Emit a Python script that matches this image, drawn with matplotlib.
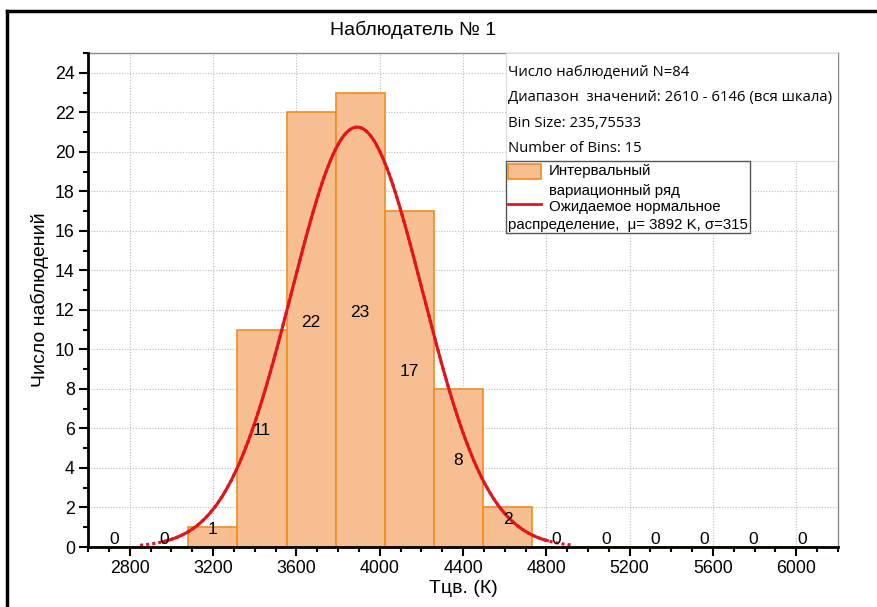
import numpy as np
import matplotlib
matplotlib.use("Agg")
import matplotlib.pyplot as plt
from matplotlib.lines import Line2D
from matplotlib.patches import Rectangle
from matplotlib.ticker import MultipleLocator

plt.rcParams['font.family'] = ['Liberation Sans', 'DejaVu Sans']

# данные гистограммы
bin_start = 2610
bin_size = 235.75533
counts = [0, 0, 1, 11, 22, 23, 17, 8, 2, 0, 0, 0, 0, 0, 0]

# нормальная кривая
mu = 3892
sigma = 315
curve_peak = 21.25
curve_dotted = (2850, 4920)
curve_solid = (2960, 4805)

stats_lines = ["Число наблюдений N=84",
               "Диапазон  значений: 2610 - 6146 (вся шкала)",
               "Bin Size: 235,75533",
               "Number of Bins: 15"]

W, H = 878, 607
fig = plt.figure(figsize=(W / 100, H / 100), dpi=100)
ax = fig.add_axes([88 / W, (H - 547) / H, 750 / W, 494 / H])

edges = bin_start + bin_size * np.arange(len(counts))
centers = edges + bin_size / 2
ax.bar(edges, counts, width=bin_size, align='edge', color='#F6BE91',
       edgecolor='#F28C1E', linewidth=1.2, zorder=2)

for c, n in zip(centers, counts):
    ax.text(c, n / 2, str(n), ha='center', va='bottom', fontsize=12.5, zorder=5)

def gauss(x):
    return curve_peak * np.exp(-0.5 * ((x - mu) / sigma) ** 2)

xd = np.linspace(*curve_dotted, 400)
ax.plot(xd, gauss(xd), color='#E3141C', lw=2.2, ls=(0, (1, 1)), zorder=4)
xs = np.linspace(*curve_solid, 400)
ax.plot(xs, gauss(xs), color='#E3141C', lw=2.2, zorder=4)

ax.set_xlim(2600, 6200)
ax.set_ylim(0, 25)
ax.xaxis.set_major_locator(MultipleLocator(400))
ax.xaxis.set_minor_locator(MultipleLocator(100))
ax.yaxis.set_major_locator(MultipleLocator(2))
ax.yaxis.set_minor_locator(MultipleLocator(1))
ax.tick_params(which='major', direction='out', length=6.5, width=1.5, labelsize=12.8, pad=3)
ax.tick_params(which='minor', direction='out', length=3.5, width=1.5)
ax.grid(True, which='major', color='#BBBBBB', ls=(0, (1, 1.5)), lw=0.8, zorder=0)
ax.set_axisbelow(True)
for s in ['left', 'bottom']:
    ax.spines[s].set_linewidth(2)
    ax.spines[s].set_color('black')
    ax.spines[s].set_zorder(6)
for s in ['top', 'right']:
    ax.spines[s].set_linewidth(1)
    ax.spines[s].set_color('#888888')

ax.set_xlabel('Тцв. (К)', fontsize=14, labelpad=2)
ax.set_ylabel('Число наблюдений', fontsize=14, labelpad=4)

# блок со статистикой
def fx(px):
    return (px - 88) / 750

def fy(py):
    return (547 - py) / 494

ax.add_patch(Rectangle((fx(506), fy(161)), fx(838) - fx(506), fy(53) - fy(161),
                       transform=ax.transAxes, facecolor='white', edgecolor='#DDDDDD',
                       lw=0.8, zorder=7))
for i, t in enumerate(stats_lines):
    ax.text(fx(508), fy(72.5 + 25.3 * i), t, transform=ax.transAxes, ha='left',
            va='center', fontsize=10.7, family=['Open Sans', 'DejaVu Sans'], zorder=8)

# легенда
ax.add_patch(Rectangle((fx(506), fy(233)), fx(750) - fx(506), fy(161) - fy(233),
                       transform=ax.transAxes, facecolor='white', edgecolor='#555555',
                       lw=1, zorder=7))
ax.add_patch(Rectangle((fx(508), fy(179)), fx(541) - fx(508), fy(164) - fy(179),
                       transform=ax.transAxes, facecolor='#F6BE91', edgecolor='#F28C1E',
                       lw=1.2, zorder=8))
ax.add_line(Line2D([fx(508), fx(541)], [fy(204), fy(204)], transform=ax.transAxes,
                   color='#E3141C', lw=2, zorder=8))
leg_lines = [(549, 171.5, "Интервальный"),
             (549, 191.5, "вариационный ряд"),
             (549, 206.5, "Ожидаемое нормальное"),
             (508, 225.5, "распределение,  μ= 3892 K, σ=315")]
for px, py, t in leg_lines:
    ax.text(fx(px), fy(py), t, transform=ax.transAxes, ha='left', va='center',
            fontsize=10.8, zorder=9)

fig.text(413 / W, 1 - 30 / H, 'Наблюдатель № 1', ha='center', va='center', fontsize=14)

# внешняя рамка
fig.add_artist(Line2D([7 / W, 7 / W], [0, 1 - 11 / H], transform=fig.transFigure,
                      color='black', lw=2.5))
fig.add_artist(Line2D([7 / W, 1], [1 - 11 / H, 1 - 11 / H], transform=fig.transFigure,
                      color='black', lw=2.5))

fig.savefig('out.png', dpi=100)
